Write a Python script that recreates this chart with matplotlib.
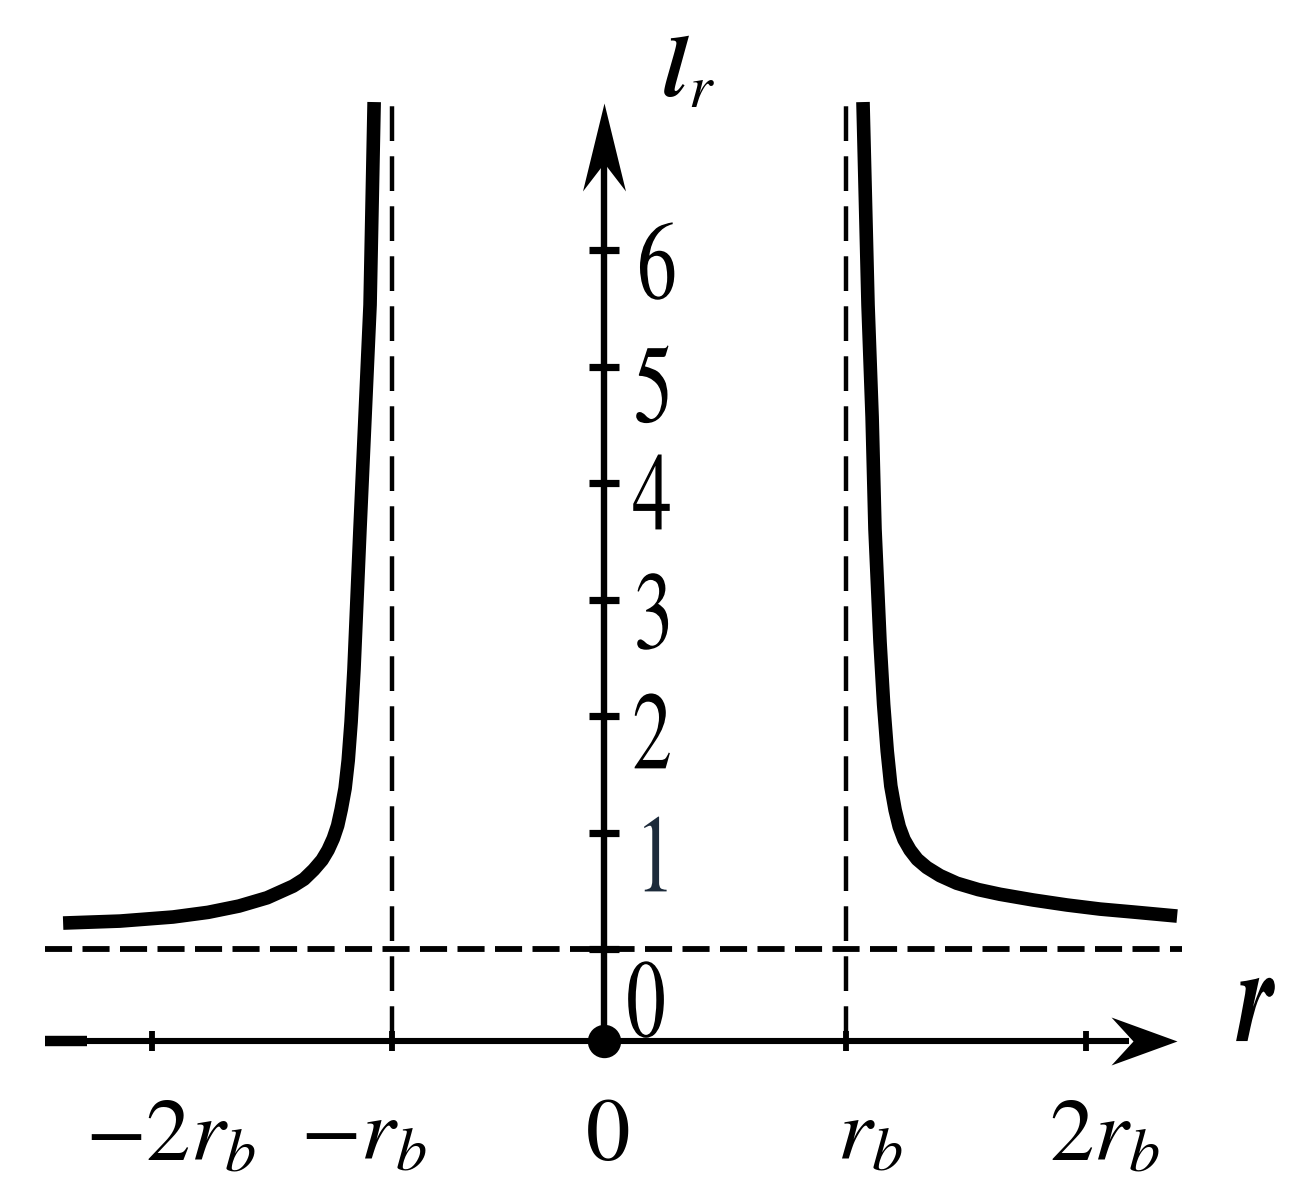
import numpy as np
import matplotlib
matplotlib.use('Agg')
import matplotlib.pyplot as plt
from matplotlib.path import Path
from matplotlib.patheffects import AbstractPathEffect
from matplotlib.transforms import Affine2D

plt.rcParams['mathtext.fontset'] = 'stix'
plt.rcParams['font.family'] = ['Liberation Serif', 'DejaVu Serif']
plt.rcParams['lines.scale_dashes'] = False

# ---------------- data (r in units of the drawing, l_r values) ----------------
left_r = [-2.254, -2.017, -1.796, -1.650, -1.521, -1.404, -1.296, -1.250, -1.210,
          -1.175, -1.150, -1.128, -1.110, -1.095, -1.079, -1.066, -1.054, -1.042,
          -1.017, -0.996, -0.975, -0.958]
left_l = [0.223, 0.240, 0.275, 0.315, 0.369, 0.440, 0.540, 0.600, 0.680,
          0.764, 0.850, 0.950, 1.060, 1.200, 1.380, 1.620, 1.950, 2.400,
          3.605, 4.567, 5.528, 7.270]

right_r = [1.079, 1.100, 1.117, 1.129, 1.150, 1.165, 1.180, 1.195, 1.213, 1.230,
           1.250, 1.275, 1.305, 1.345, 1.400, 1.470, 1.560, 1.650, 1.788, 1.929,
           2.067, 2.204, 2.388]
right_l = [7.270, 5.528, 4.567, 3.605, 2.635, 2.100, 1.700, 1.400, 1.193, 1.050,
           0.940, 0.850, 0.770, 0.700, 0.630, 0.565, 0.510, 0.470, 0.421, 0.378,
           0.343, 0.318, 0.283]

r_tick_pos = [-1.883, -0.885, 0.0, 1.010, 2.008]
r_tick_labels = [r'$-2r_b$', r'$-r_b$', r'$0$', r'$r_b$', r'$2r_b$']
asymptote_r = [-0.885, 1.010]
asymptote_l = 0.0

l_ticks = [0, 1, 2, 3, 4, 5, 6]
l_tick_labels = ['0', '1', '2', '3', '4', '5', '6']

# ---------------- layout ----------------
XLIM = (-2.517, 2.925)
YLIM = (-2.094, 8.146)
X_AXIS_L = -0.79          # level of the r axis
X_AXIS_START = -2.329
X_AXIS_TIP = 2.388
Y_AXIS_TIP = 7.262
PX_Y = 116.5              # pixels per l unit


class VStretch(AbstractPathEffect):
    """Stretch glyphs vertically about their own centre (text stays text)."""
    def __init__(self, s=1.0):
        super().__init__()
        self.s = s

    def draw_path(self, renderer, gc, tpath, affine, rgbFace=None):
        ext = tpath.get_extents(affine)
        cy = 0.5 * (ext.y0 + ext.y1)
        aff = affine + Affine2D().translate(0, -cy).scale(1, self.s).translate(0, cy)
        renderer.draw_path(gc, tpath, aff, rgbFace)


fig = plt.figure(figsize=(13.06, 11.93), dpi=100)
ax = fig.add_axes([0, 0, 1, 1])
ax.set_xlim(*XLIM)
ax.set_ylim(*YLIM)
ax.axis('off')

# dashed asymptotes
for xa in asymptote_r:
    ln, = ax.plot([xa, xa], [X_AXIS_L, 7.29], color='black', lw=3.2)
    ln.set_dashes((25, 11))
hl, = ax.plot([X_AXIS_START, 2.408], [asymptote_l, asymptote_l], color='black', lw=4.2)
hl.set_dashes((19.5, 7.5))

# axes lines
ax.plot([X_AXIS_START, X_AXIS_TIP - 0.2], [X_AXIS_L, X_AXIS_L], color='black', lw=4.4,
        solid_capstyle='butt')
ax.plot([X_AXIS_START, X_AXIS_START + 0.175], [X_AXIS_L, X_AXIS_L], color='black', lw=7.5,
        solid_capstyle='butt')
ax.plot([0, 0], [X_AXIS_L, Y_AXIS_TIP - 0.5], color='black', lw=4.6, solid_capstyle='butt')

# arrowheads (custom barbed markers)
xarrow = Path([(0, 0), (-66, -24), (-44, 0), (-66, 24), (0, 0)],
              [Path.MOVETO, Path.LINETO, Path.LINETO, Path.LINETO, Path.CLOSEPOLY])
yarrow = Path([(0, 0), (-21.5, -88), (0, -60), (21.5, -88), (0, 0)],
              [Path.MOVETO, Path.LINETO, Path.LINETO, Path.LINETO, Path.CLOSEPOLY])
ax.plot([X_AXIS_TIP], [X_AXIS_L], marker=xarrow, markersize=95, color='black',
        markeredgewidth=0, linestyle='none')
ax.plot([0], [Y_AXIS_TIP], marker=yarrow, markersize=126.7, color='black',
        markeredgewidth=0, linestyle='none')

# tick marks
ax.plot([p for p in r_tick_pos if p != 0], [X_AXIS_L] * 4, marker='|', markersize=15,
        markeredgewidth=4.2, color='black', linestyle='none')
ax.plot([0] * len(l_ticks), l_ticks, marker='_', markersize=21, markeredgewidth=5.2,
        color='black', linestyle='none')
ax.plot([0], [X_AXIS_L], marker='o', markersize=24, color='black', markeredgewidth=0)

# curves
for xs, ys in ((left_r, left_l), (right_r, right_l)):
    ax.plot(xs, ys, color='black', lw=9.8, solid_capstyle='butt', solid_joinstyle='round')

# r tick labels
r_label_dx = [0.079, -0.119, 0.0125, 0.100, 0.075]
for p, lab, dx in zip(r_tick_pos, r_tick_labels, r_label_dx):
    ax.text(p + dx, -1.811, lab, fontsize=64, ha='center', va='baseline', color='black')

# l tick labels (tall, narrow digits)
l_label_dy = [-0.438, -0.193, -0.137, -0.107, -0.086, -0.159, -0.103]
l_label_x = [0.175, 0.20, 0.20, 0.20, 0.20, 0.20, 0.22]
half_h = 26.0 / PX_Y
for v, lab, dy, lx in zip(l_ticks, l_tick_labels, l_label_dy, l_label_x):
    col = '#1c2a3a' if lab == '1' else 'black'
    ax.text(lx, v + dy - half_h, '$' + lab + '$', fontsize=57, ha='center', va='baseline',
            color=col, path_effects=[VStretch(1.4)])

# axis titles
ax.text(0.246, 7.313, r'$\boldsymbol{l}_{r}$', fontsize=62, ha='left', va='baseline',
        color='black')
ax.text(2.642, -0.712, r'$\boldsymbol{r}$', fontsize=68, ha='left', va='baseline',
        color='black', path_effects=[VStretch(1.45)])

fig.savefig('out.png', dpi=100, facecolor='white')
